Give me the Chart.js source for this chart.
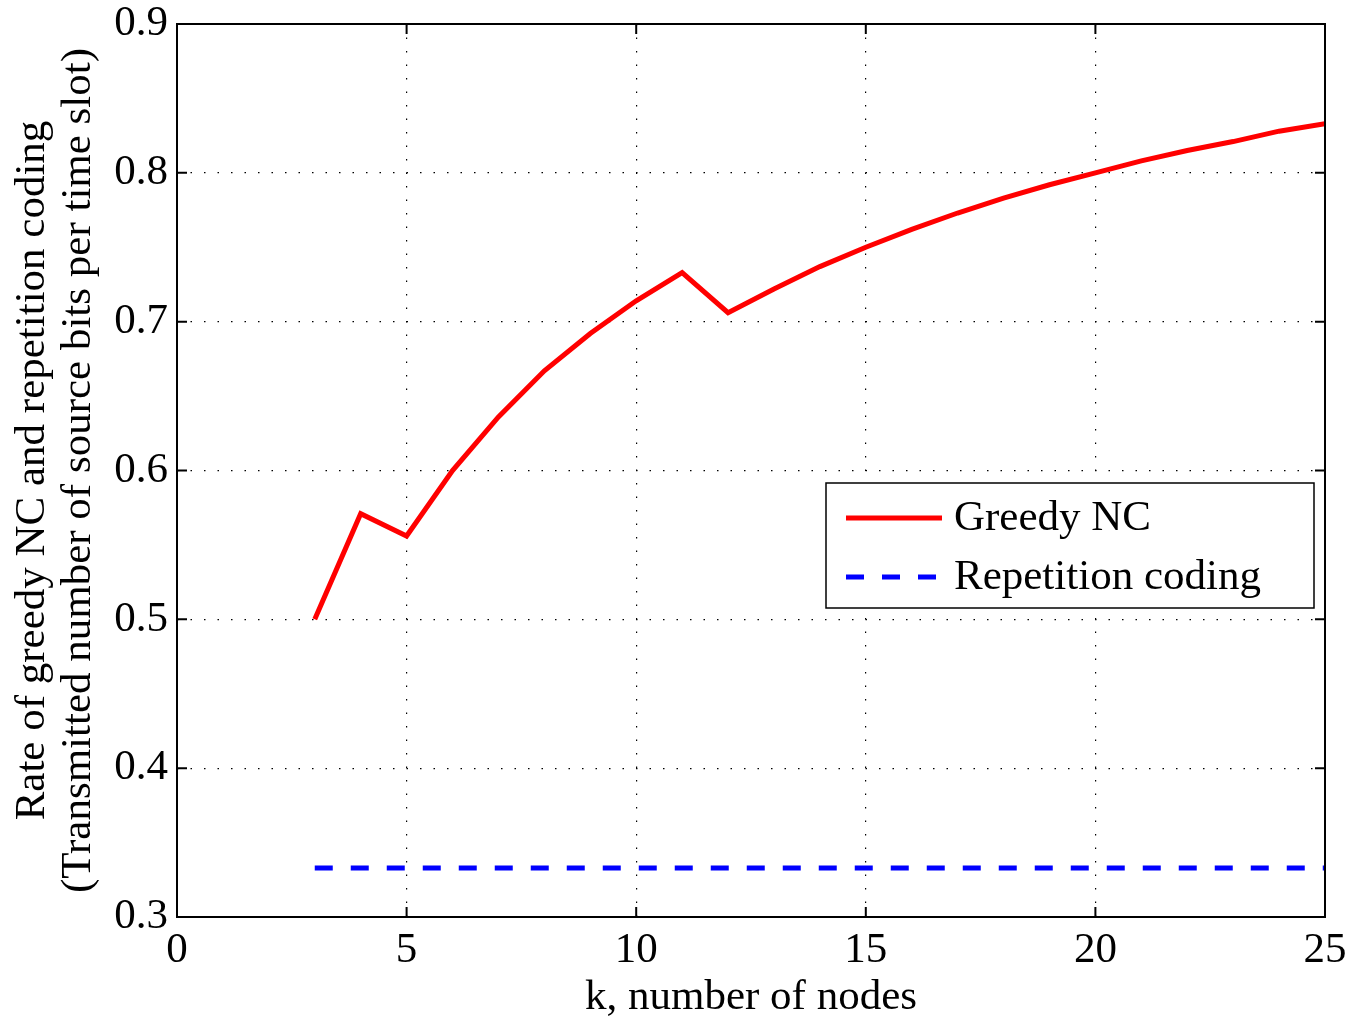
<!DOCTYPE html>
<html><head><meta charset="utf-8">
<script src="https://cdn.jsdelivr.net/npm/chart.js@4"></script>
<style>html,body{margin:0;padding:0;background:#fff;}#wrap{width:1366px;height:1019px;}</style>
</head><body><div id="wrap"><canvas id="c" width="1366" height="1019"></canvas></div>
<script>
const kValues = [3,4,5,6,7,8,9,10,11,12,13,14,15,16,17,18,19,20,21,22,23,24,25];
const greedyNC = [0.500,0.571,0.556,0.600,0.636,0.667,0.692,0.714,0.733,0.706,0.722,0.737,0.750,0.762,0.773,0.783,0.792,0.800,0.808,0.815,0.821,0.828,0.833];
const repetition = [0.333,0.333,0.333,0.333,0.333,0.333,0.333,0.333,0.333,0.333,0.333,0.333,0.333,0.333,0.333,0.333,0.333,0.333,0.333,0.333,0.333,0.333,0.333];
const seriesNames = ['Greedy NC','Repetition coding'];
const xTitle = 'k, number of nodes';
const yTitle = ['Rate of greedy NC and repetition coding','(Transmitted number of source bits per time slot)'];
const FONT = '"Liberation Serif", "Times New Roman", serif';
const FS = 43;

const boxPlugin = {
  id:'boxPlugin',
  afterDatasetsDraw(chart){
    const {ctx, chartArea:a, scales:{x,y}} = chart;
    ctx.save();
    ctx.strokeStyle='#000'; ctx.lineWidth=2;
    ctx.strokeRect(a.left, a.top, a.right-a.left, a.bottom-a.top);
    const L=10;
    ctx.beginPath();
    x.ticks.forEach(t=>{const px=x.getPixelForValue(t.value);
      ctx.moveTo(px,a.bottom);ctx.lineTo(px,a.bottom-L);
      ctx.moveTo(px,a.top);ctx.lineTo(px,a.top+L);});
    y.ticks.forEach(t=>{const py=y.getPixelForValue(t.value);
      ctx.moveTo(a.left,py);ctx.lineTo(a.left+L,py);
      ctx.moveTo(a.right,py);ctx.lineTo(a.right-L,py);});
    ctx.stroke();
    // legend
    const lx=826, ly=483, lw=488, lh=125;
    ctx.fillStyle='#fff'; ctx.fillRect(lx,ly,lw,lh);
    ctx.lineWidth=1.5; ctx.strokeRect(lx,ly,lw,lh);
    ctx.font=FS+'px '+FONT; ctx.textBaseline='middle'; ctx.fillStyle='#000';
    chart.data.datasets.forEach((ds,i)=>{
      const cy = ly+35+i*59;
      ctx.strokeStyle=ds.borderColor; ctx.lineWidth=ds.borderWidth;
      ctx.setLineDash(ds.borderDash||[]);
      ctx.beginPath(); ctx.moveTo(846,cy); ctx.lineTo(942,cy); ctx.stroke();
      ctx.setLineDash([]);
      ctx.fillText(ds.label, 954, cy+1);
    });
    ctx.restore();
  }
};

new Chart(document.getElementById('c'),{
  type:'line',
  data:{datasets:[
    {label:seriesNames[0], data:kValues.map((k,i)=>({x:k,y:greedyNC[i]})), borderColor:'#ff0000', borderWidth:5, pointRadius:0, fill:false, tension:0},
    {label:seriesNames[1], data:kValues.map((k,i)=>({x:k,y:repetition[i]})), borderColor:'#0000ff', borderWidth:5, borderDash:[18,18], pointRadius:0, fill:false, tension:0}
  ]},
  options:{
    responsive:false, animation:false, devicePixelRatio:1,
    layout:{padding:{top:24,right:41,left:0,bottom:0}},
    plugins:{legend:{display:false},tooltip:{enabled:false}},
    scales:{
      x:{type:'linear',min:0,max:25,
        ticks:{stepSize:5,color:'#000',font:{family:FONT,size:FS,lineHeight:1.0},padding:12,maxRotation:0},
        grid:{color:'#000',lineWidth:1.2,drawTicks:false},
        border:{display:false,dash:[1.5,12]},
        title:{display:true,text:xTitle,color:'#000',font:{family:FONT,size:FS,lineHeight:1.0},padding:{top:0,bottom:0}},
        afterFit(s){s.height=102; s.paddingLeft=0; s.paddingRight=0;}
      },
      y:{min:0.3,max:0.9,
        ticks:{stepSize:0.1,color:'#000',font:{family:FONT,size:FS},padding:9,callback:v=>v.toFixed(1)},
        grid:{color:'#000',lineWidth:1.2,drawTicks:false},
        border:{display:false,dash:[1.5,12]},
        title:{display:true,text:yTitle,color:'#000',font:{family:FONT,size:FS,lineHeight:1.07},padding:{top:10,bottom:4}},
        afterFit(s){s.width=177; s.paddingTop=0; s.paddingBottom=0;}
      }
    }
  },
  plugins:[boxPlugin]
});
</script></body></html>
